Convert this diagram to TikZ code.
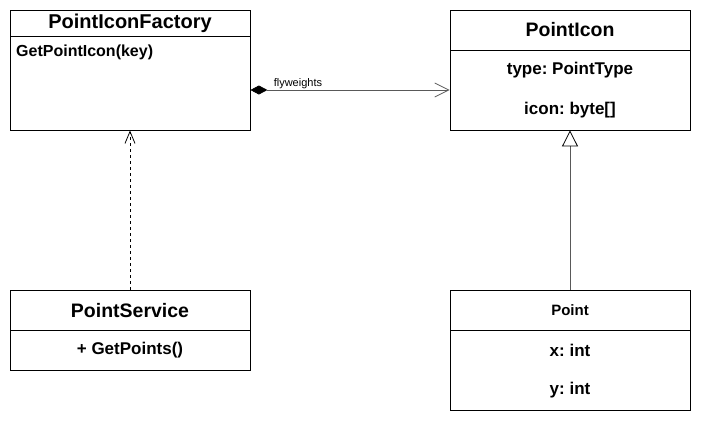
\documentclass[tikz,border=0pt]{standalone}
\usepackage{fontspec}
\setmainfont{Liberation Sans}
\usetikzlibrary{arrows.meta}
\frenchspacing
\tikzset{
	classbox/.style={draw, line width=0.8pt, minimum width=240pt, inner sep=0pt},
	classname/.style={font=\fontsize{19.5}{22}\selectfont\bfseries, inner sep=0pt},
	member/.style={font=\fontsize{17}{19}\selectfont\bfseries, inner sep=0pt},
}

\begin{document}
\begin{tikzpicture}[x=1pt, y=-1pt]
		%%%%% START %%%%%
		
		\useasboundingbox[fill=white] (0, 0) rectangle (701, 421);
		
		% factory
		\node[classbox, minimum height=120pt] (factory) at (130, 70) {};
		\draw[line width=0.8pt] (10, 36) -- (250, 36);
		\node[classname, font=\fontsize{20}{22}\selectfont\bfseries] (factoryname) at (130, 23) {PointIconFactory};
		\node[member, font=\fontsize{16}{18}\selectfont\bfseries, anchor=west] (getpointicon) at (16, 52) {GetPointIcon(key)};
		
		% flyweight
		\node[classbox, minimum height=120pt] (icon) at (570, 70) {};
		\draw[line width=0.8pt] (450, 50) -- (690, 50);
		\node[classname] (iconname) at (570, 30) {PointIcon};
		\node[member] (icontype) at (570, 70) {type: PointType};
		\node[member] (iconbytes) at (570, 110) {icon: byte[]};
		
		% client
		\node[classbox, minimum height=80pt] (service) at (130, 330) {};
		\draw[line width=0.8pt] (10, 330) -- (250, 330);
		\node[classname] (servicename) at (130, 311) {PointService};
		\node[member] (getpoints) at (130, 350) {+ GetPoints()};
		
		% context
		\node[classbox, minimum height=120pt] (point) at (570, 350) {};
		\draw[line width=0.8pt] (450, 330) -- (690, 330);
		\node[member, font=\fontsize{15}{17}\selectfont\bfseries] (pointname) at (570, 310) {Point};
		\node[member] (pointx) at (570, 350) {x: int};
		\node[member] (pointy) at (570, 390) {y: int};
		
		% relations
		\draw[line width=0.8pt, color=black!65, {Diamond[length=17pt, width=9pt, black]}-{Straight Barb[length=14pt, width=14pt]}]
			([yshift=-20pt]factory.east) -- ([yshift=-20pt]icon.west)
			node[pos=0, anchor=south west, xshift=22pt, inner sep=1pt, text=black, font=\fontsize{11}{12}\selectfont] (flylabel) {flyweights};
		\draw[line width=0.8pt, dashed, -{Straight Barb[length=12pt, width=10pt]}] (service.north) -- (factory.south);
		\draw[line width=0.8pt, color=black!65, -{Triangle[open, length=16pt, width=16pt, black]}] (point.north) -- (icon.south);
		
		%%%%% END %%%%%
	\end{tikzpicture}
\end{document}
